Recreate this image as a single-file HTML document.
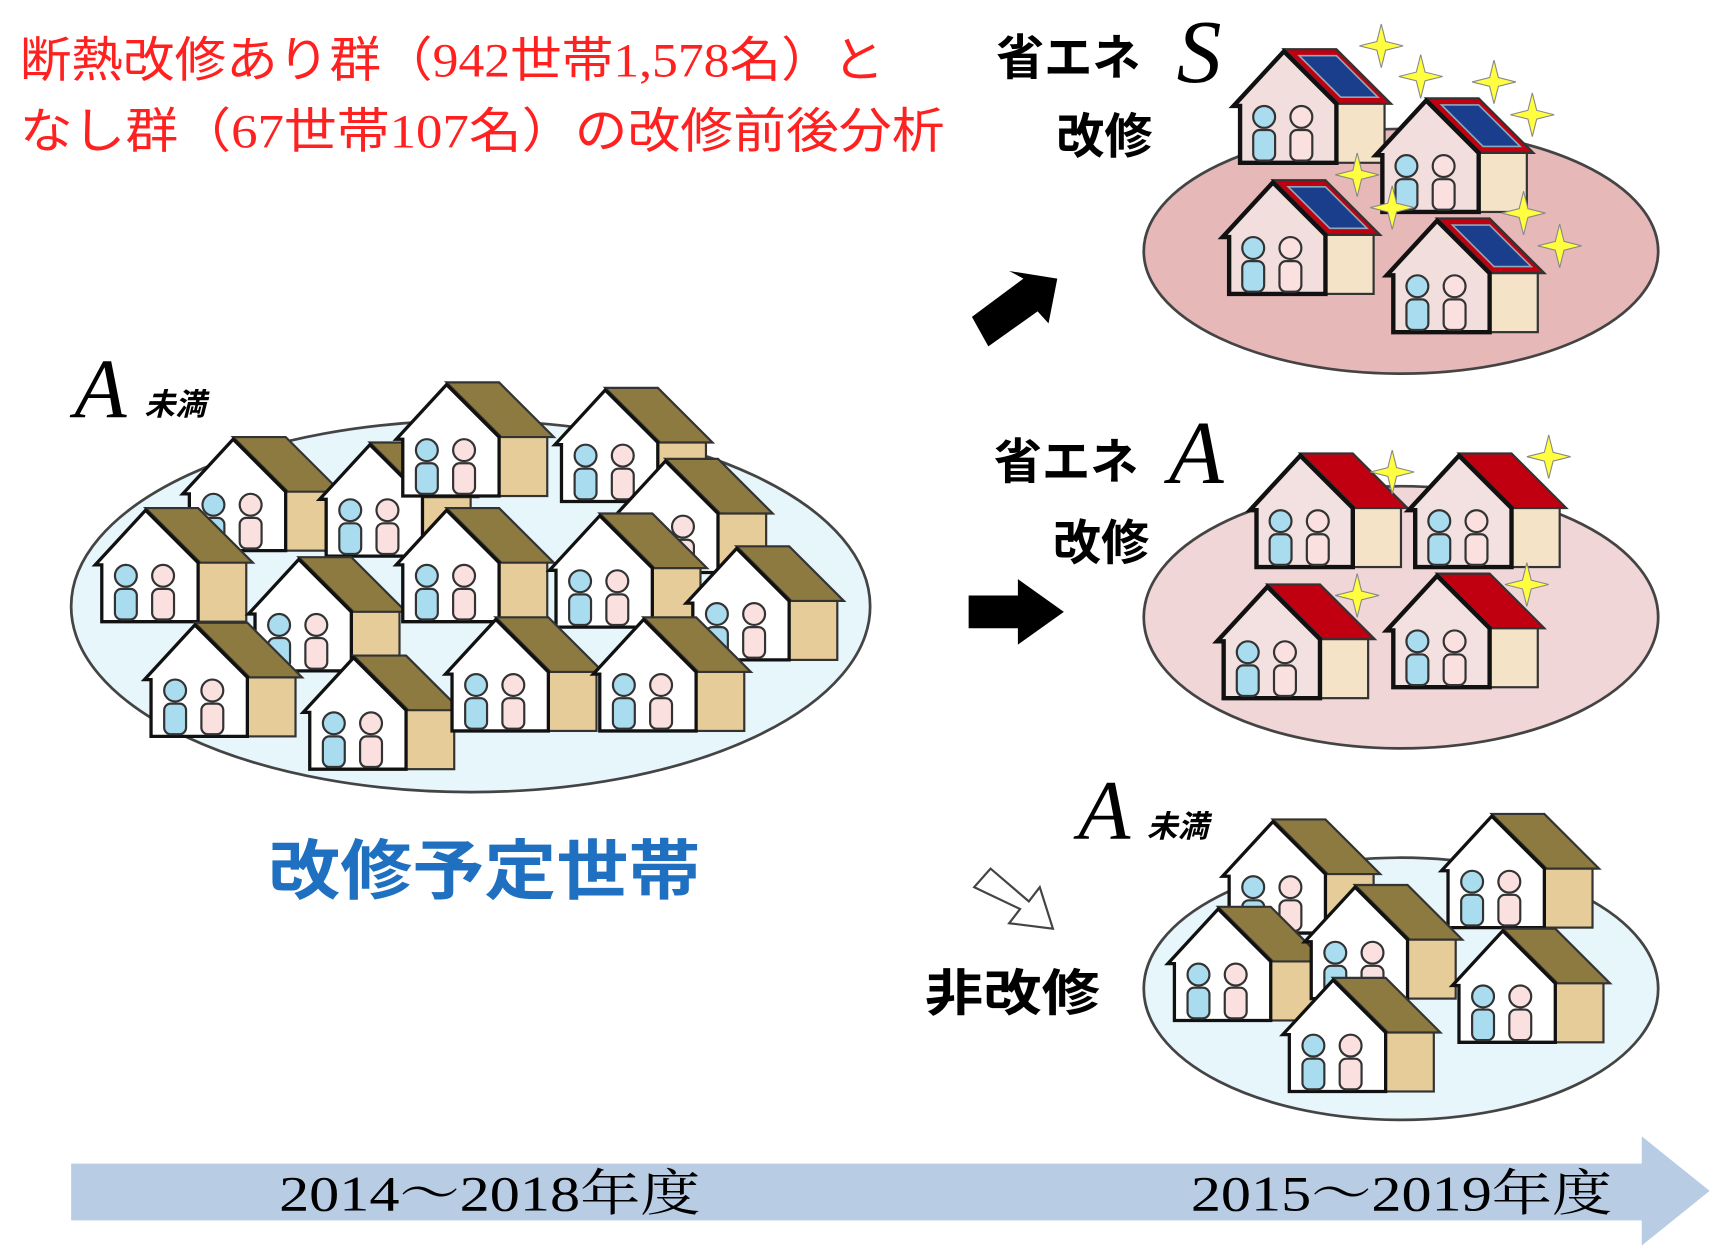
<!DOCTYPE html>
<html><head><meta charset="utf-8"><style>
html,body{margin:0;padding:0;background:#fff;}
svg{display:block}
.jp{font-family:"Liberation Sans","Noto Sans CJK JP",sans-serif;font-weight:bold}
</style></head><body>
<svg width="1714" height="1251" viewBox="0 0 1566 1145" preserveAspectRatio="none" xmlns="http://www.w3.org/2000/svg">
<defs>
<g id="ppl">
 <circle cx="30" cy="62" r="10" fill="#a8dcee" stroke="#333" stroke-width="2"/>
 <rect x="20" y="74" width="20" height="28" rx="6" fill="#a8dcee" stroke="#333" stroke-width="2"/>
 <circle cx="64" cy="62" r="10" fill="#fbe0e0" stroke="#333" stroke-width="2"/>
 <rect x="54" y="74" width="20" height="28" rx="6" fill="#fbe0e0" stroke="#333" stroke-width="2"/>
</g>
<g id="hb">
 <rect x="96" y="48" width="44" height="56" fill="#e6cc98" stroke="#333" stroke-width="2"/>
 <polygon points="48,0 96,0 146,50 98,50" fill="#8c7a40" stroke="#333" stroke-width="2"/>
 <polygon points="2,52 48,2 96,50 96,104 8,104 8,52" fill="#fff" stroke="#111" stroke-width="3"/>
 <use href="#ppl"/>
</g>
<g id="hr">
 <rect x="96" y="48" width="44" height="56" fill="#f5e3c8" stroke="#333" stroke-width="2"/>
 <polygon points="48,0 96,0 146,50 98,50" fill="#c00010" stroke="#333" stroke-width="2"/>
 <polygon points="2,52 48,2 96,50 96,104 8,104 8,52" fill="#f3e0e0" stroke="#111" stroke-width="4"/>
 <use href="#ppl"/>
</g>
<g id="hs">
 <rect x="96" y="48" width="44" height="56" fill="#f5e3c8" stroke="#333" stroke-width="2"/>
 <polygon points="48,0 96,0 146,50 98,50" fill="#c00010" stroke="#333" stroke-width="2"/>
 <polygon points="62,6 96,6 134,44 100,44" fill="#1a3e8c" stroke="#8ab" stroke-width="1.5"/>
 <polygon points="2,52 48,2 96,50 96,104 8,104 8,52" fill="#f3dede" stroke="#111" stroke-width="4"/>
 <use href="#ppl"/>
</g>
<polygon id="star" points="0,-20 4,-4 20,0 4,4 0,20 -4,4 -20,0 -4,-4" fill="#ffff40" stroke="#888" stroke-width="1"/>
</defs>

<text x="18" y="70" font-size="44" fill="#ff2020" font-family="Liberation Serif,'Noto Sans CJK JP',sans-serif" textLength="790" lengthAdjust="spacingAndGlyphs">断熱改修あり群（942世帯1,578名）と</text>
<text x="18" y="135" font-size="44" fill="#ff2020" font-family="Liberation Serif,'Noto Sans CJK JP',sans-serif" textLength="845" lengthAdjust="spacingAndGlyphs">なし群（67世帯107名）の改修前後分析</text>

<ellipse cx="430" cy="555" rx="365" ry="170" fill="#e6f6fb" stroke="#444" stroke-width="2.5"/>
<text x="68" y="382" font-size="78" font-style="italic" font-family="Liberation Serif,serif">A</text>
<text x="132" y="380" font-size="28" font-style="italic" class="jp">未満</text>
<use href="#hb" x="165" y="400"/><use href="#hb" x="290" y="405"/><use href="#hb" x="360" y="350"/>
<use href="#hb" x="505" y="355"/><use href="#hb" x="560" y="420"/><use href="#hb" x="85" y="465"/>
<use href="#hb" x="225" y="510"/><use href="#hb" x="360" y="465"/><use href="#hb" x="500" y="470"/>
<use href="#hb" x="625" y="500"/><use href="#hb" x="130" y="570"/><use href="#hb" x="275" y="600"/>
<use href="#hb" x="405" y="565"/><use href="#hb" x="540" y="565"/>
<text x="245" y="818" font-size="60" fill="#1f70c0" class="jp" textLength="395" lengthAdjust="spacingAndGlyphs">改修予定世帯</text>

<ellipse cx="1280" cy="230" rx="235" ry="112" fill="#e6b8b8" stroke="#444" stroke-width="2.5"/>
<text x="910" y="68" font-size="44" class="jp">省エネ</text>
<text x="1075" y="75" font-size="82" font-style="italic" font-family="Liberation Serif,serif">S</text>
<text x="965" y="140" font-size="44" class="jp">改修</text>
<use href="#hs" x="1125" y="45"/><use href="#hs" x="1255" y="90"/><use href="#hs" x="1115" y="165"/><use href="#hs" x="1265" y="200"/>
<use href="#star" x="1262" y="42"/><use href="#star" x="1298" y="70"/><use href="#star" x="1365" y="75"/><use href="#star" x="1400" y="105"/>
<use href="#star" x="1240" y="160"/><use href="#star" x="1272" y="190"/><use href="#star" x="1392" y="195"/><use href="#star" x="1425" y="225"/>

<ellipse cx="1280" cy="565" rx="235" ry="120" fill="#f0d6d6" stroke="#444" stroke-width="2.5"/>
<text x="908" y="438" font-size="44" class="jp">省エネ</text>
<text x="1068" y="442" font-size="82" font-style="italic" font-family="Liberation Serif,serif">A</text>
<text x="962" y="512" font-size="44" class="jp">改修</text>
<use href="#hr" x="1140" y="415"/><use href="#hr" x="1285" y="415"/><use href="#hr" x="1110" y="535"/><use href="#hr" x="1265" y="525"/>
<use href="#star" x="1272" y="432"/><use href="#star" x="1415" y="418"/><use href="#star" x="1240" y="545"/><use href="#star" x="1395" y="535"/>

<ellipse cx="1280" cy="905" rx="235" ry="120" fill="#e6f6fb" stroke="#444" stroke-width="2.5"/>
<text x="985" y="768" font-size="78" font-style="italic" font-family="Liberation Serif,serif">A</text>
<text x="1048" y="766" font-size="28" font-style="italic" class="jp">未満</text>
<use href="#hb" x="1115" y="750"/><use href="#hb" x="1315" y="745"/><use href="#hb" x="1065" y="830"/>
<use href="#hb" x="1190" y="810"/><use href="#hb" x="1325" y="850"/><use href="#hb" x="1170" y="895"/>
<text x="845" y="925" font-size="46" class="jp" textLength="160" lengthAdjust="spacingAndGlyphs">非改修</text>

<polygon points="888,290 935,255 922,248 966,255 958,296 948,285 903,317" fill="#000"/>
<polygon points="885,545 930,545 930,530 972,560 930,590 930,575 885,575" fill="#000"/>
<polygon points="890,812 905,795 940,825 950,812 962,850 922,845 932,832" fill="#fff" stroke="#444" stroke-width="2"/>

<polygon points="65,1065 1500,1065 1500,1040 1562,1090 1500,1140 1500,1117 65,1117" fill="#b8cce4"/>
<text x="255" y="1108" font-size="46" font-family="Liberation Serif,'Noto Serif CJK SC',serif" textLength="385" lengthAdjust="spacingAndGlyphs">2014～2018年度</text>
<text x="1088" y="1108" font-size="46" font-family="Liberation Serif,'Noto Serif CJK SC',serif" textLength="385" lengthAdjust="spacingAndGlyphs">2015～2019年度</text>
</svg>
</body></html>
